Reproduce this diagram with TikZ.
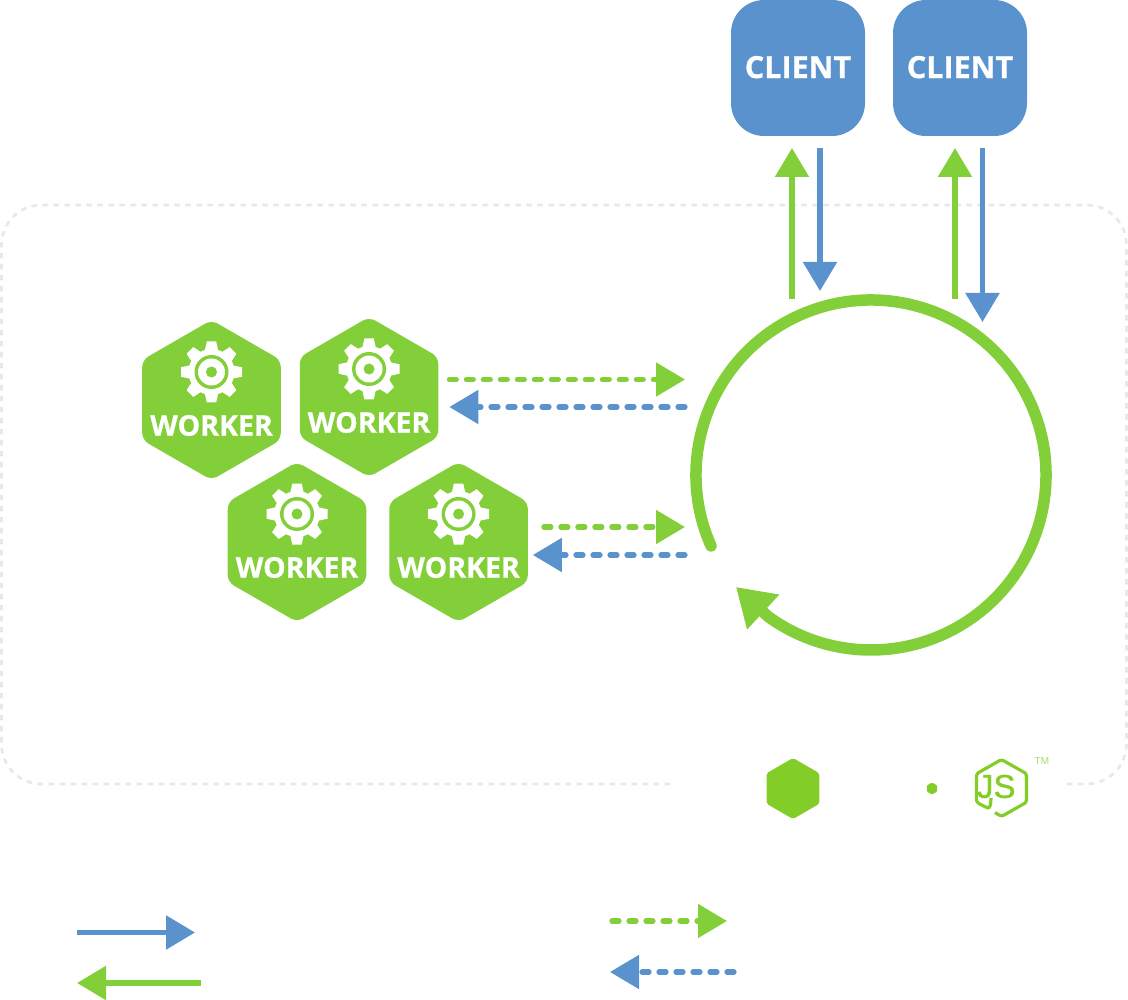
\documentclass[tikz,border=0pt]{standalone}
\usepackage{fontspec}
\usepackage[dvipsnames,usenames]{xcolor}
\setmainfont{Open Sans}[BoldFeatures={FakeBold=0.8}]
\newfontfamily\logofont{Liberation Sans}[FakeBold=1]
\newfontfamily\tmfont{Liberation Sans}
\usetikzlibrary{positioning,arrows.meta,shapes.geometric,calc}
\definecolor{hexgreen}{HTML}{83CF39}
\definecolor{logogreen}{HTML}{83CD29}
\definecolor{clientblue}{HTML}{5992CC}
\definecolor{framegray}{HTML}{E8E8E8}

\begin{document}
\begin{tikzpicture}[
  x=1pt, y=1pt,
  hexbox/.style     = {regular polygon, regular polygon sides=6, shape border rotate=30,
                       fill=hexgreen, rounded corners=7pt, minimum size=160pt,
                       inner sep=0pt, outer sep=0pt},
  logohex/.style    = {hexbox, fill=logogreen, rounded corners=2pt, minimum size=61pt},
  clientbox/.style  = {rectangle, fill=clientblue, rounded corners=33pt, text=white,
                       minimum width=134pt, minimum height=136pt, inner sep=0pt, outer sep=0pt,
                       text depth=2pt, font=\fontsize{30.5}{31}\selectfont\bfseries},
  workertext/.style = {text=white, inner sep=0pt, font=\fontsize{28.5}{29}\selectfont\bfseries},
  frameline/.style  = {draw=framegray, line width=2.7pt, rounded corners=40pt,
                       dash pattern=on 5.5pt off 5.5pt},
  greenarr/.style   = {-{Triangle[length=29pt,width=33pt]}, line width=5.6pt, hexgreen},
  bluearr/.style    = {-{Triangle[length=29pt,width=33pt]}, line width=5.6pt, clientblue},
  greendash/.style  = {greenarr, line width=5.2pt, line cap=round, dash pattern=on 7pt off 10pt},
  bluedash/.style   = {bluearr, line width=5.2pt, line cap=round, dash pattern=on 7pt off 10pt},
  looparc/.style    = {-{Triangle[length=37pt,width=45pt]}, line width=11.5pt, hexgreen, line cap=round},
  gear/.pic = {
    \fill[white] (0,0) circle (23);
    \foreach \a in {0,45,...,315}
      \fill[white, rotate=\a] (20,-7) -- (30.5,-4.7) -- (30.5,4.7) -- (20,7) -- cycle;
    \fill[hexgreen] (0,0) circle (17);
    \fill[white] (0,0) circle (13.5);
    \fill[hexgreen] (0,0) circle (5.5);
  },
]
\useasboundingbox (0,0) rectangle (1128,-1000);

% dashed frame, open at the logos
\draw[frameline] (670,-784) -- (1.5,-784) -- (1.5,-205) -- (1126.5,-205) -- (1126.5,-784) -- (1062,-784);

\node[clientbox] (client1) at (798,-68) {CLIENT};
\node[clientbox, right=28pt of client1] (client2) {CLIENT};

\node[hexbox] (worker1) at (211.5,-400) {};
\node[hexbox, right=19pt of worker1, yshift=3pt] (worker2) {};
\node[hexbox] (worker3) at (297,-542) {};
\node[hexbox, right=23pt of worker3] (worker4) {};
\foreach \w in {worker1,worker2,worker3,worker4} {
  \pic at ([yshift=28pt]\w.center) {gear};
  \node[workertext] (\w text) at ([yshift=-25.5pt]\w.center) {WORKER};
}

% event loop
\coordinate (loop) at (871,-475);
\coordinate (looptip) at (736,-587);
\draw[looparc] ($(loop)+(203.9:175)$) arc (203.9:-126:175) -- (looptip);

\coordinate (c1up) at (792,-299);
\coordinate (c1down) at (820,-291);
\coordinate (c2up) at (955,-299);
\coordinate (c2down) at (982.5,-322);
\draw[greenarr, shorten >=12pt] (c1up) -- (c1up |- client1.south);
\draw[bluearr, shorten <=12pt] (c1down |- client1.south) -- (c1down);
\draw[greenarr, shorten >=12pt] (c2up) -- (c2up |- client2.south);
\draw[bluearr, shorten <=12pt] (c2down |- client2.south) -- (c2down);

\coordinate (w2in) at (685,-379.5);
\coordinate (w2out) at (685,-407);
\coordinate (w4in) at (685,-527);
\coordinate (w4out) at (685,-555);
\draw[greendash, shorten <=11pt] (worker2.east |- w2in) -- (w2in);
\draw[bluedash, shorten >=11pt] (w2out) -- (worker2.east |- w2out);
\draw[greendash, shorten <=16pt] (worker4.east |- w4in) -- (w4in);
\draw[bluedash, shorten >=5pt] (w4out) -- (worker4.east |- w4out);

% logos
\node[logohex] (nodehex) at (793,-788.5) {};
\node[logohex, minimum size=12pt, rounded corners=1pt] (nodedot) at (932,-788.5) {};
\coordinate (jslogo) at (1001.5,-788);
\begin{scope}[shift={(jslogo)}]
  \draw[logogreen, line width=3.2pt, rounded corners=2.5pt] (-6.5,-24.5) -- (0,-28.5) -- (25,-14.25)
    -- (25,14.25) -- (0,28.5) -- (-25,14.25) -- (-25,-14.25) -- (-16,-19)
    .. controls (-12,-20.5) and (-10.5,-17) .. (-10.5,-10);
\end{scope}
\node[text=logogreen, inner sep=0pt, font=\logofont\fontsize{33}{33}\selectfont] (jstext) at ([xshift=-5.25pt,yshift=1.5pt]jslogo) {JS};
\node[text=logogreen!70, inner sep=0pt, font=\tmfont\fontsize{10}{10}\selectfont, right=8pt of jslogo, xshift=25pt, yshift=26.5pt] (jstm) {TM};

% key
\coordinate (keya1) at (77,-932.5);
\coordinate (keya2) at (195,-932.5);
\coordinate (keyb1) at (201,-983);
\coordinate (keyb2) at (77,-983);
\coordinate (keyc1) at (612,-921);
\coordinate (keyc2) at (727,-921);
\coordinate (keyd1) at (734,-972);
\coordinate (keyd2) at (610,-972);
\draw[bluearr] (keya1) -- (keya2);
\draw[greenarr] (keyb1) -- (keyb2);
\draw[greendash] (keyc1) -- (keyc2);
\draw[bluedash] (keyd1) -- (keyd2);

\end{tikzpicture}
\end{document}
